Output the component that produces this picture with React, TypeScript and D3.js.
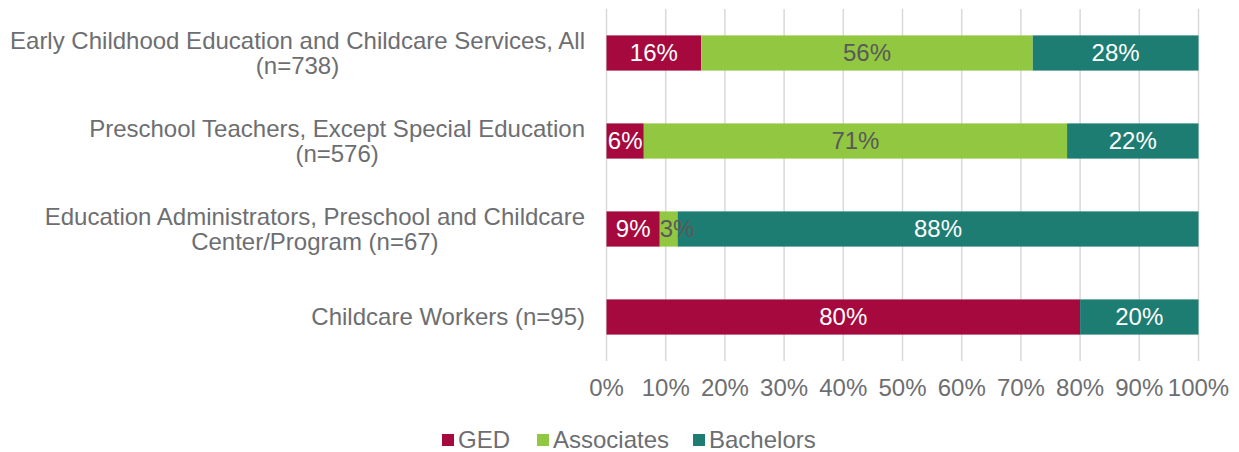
import React from "react";
import * as d3 from "d3";

const categories = [
  ["Early Childhood Education and Childcare Services, All", "(n=738)"],
  ["Preschool Teachers, Except Special Education", "(n=576)"],
  ["Education Administrators, Preschool and Childcare", "Center/Program (n=67)"],
  ["Childcare Workers (n=95)"],
];
const seriesNames = ["GED", "Associates", "Bachelors"];
const gedValues = [16, 6.3, 9, 80];
const associatesValues = [56, 71.5, 3, 0];
const bachelorsValues = [28, 22.2, 88, 20];
const labelGed = ["16%", "6%", "9%", "80%"];
const labelAssociates = ["56%", "71%", "3%", ""];
const labelBachelors = ["28%", "22%", "88%", "20%"];
const tickValues = [0, 10, 20, 30, 40, 50, 60, 70, 80, 90, 100];
const colors = ["#A5093D", "#92C741", "#1E7D73"];
const labelColors = ["#FFFFFF", "#595959", "#FFFFFF"];

const W = 1239;
const H = 452;
const FONT = "'Liberation Sans', Arial, sans-serif";
const TEXT = "#6D6E71";
const FS = 24;

function labelWidth(s: string) {
  let w = 0;
  for (const c of s) w += c === "%" ? 0.889 : 0.556;
  return w * FS;
}

function CategoryLabel({ lines, cy }: { lines: string[]; cy: number }) {
  const ref = React.useRef<SVGGElement>(null);
  const [shift, setShift] = React.useState(0);
  React.useLayoutEffect(() => {
    if (!ref.current) return;
    const bb = ref.current.getBBox();
    setShift(585 - (bb.x + bb.width));
  }, []);
  const lh = 24.5;
  const start = cy - ((lines.length - 1) * lh) / 2;
  return (
    <g ref={ref} transform={`translate(${shift},0)`}>
      <text textAnchor="middle" fontSize={FS} fill={TEXT}>
        {lines.map((l, j) => (
          <tspan key={j} x={0} y={start + j * lh} dy="0.35em">
            {l}
          </tspan>
        ))}
      </text>
    </g>
  );
}

export default function App() {
  const x = d3.scaleLinear().domain([0, 100]).range([606.5, 1198.5]);
  const y = d3
    .scaleBand<number>()
    .domain(d3.range(categories.length))
    .range([9, 361])
    .paddingInner(0.6)
    .paddingOuter(0.3);

  const values = [gedValues, associatesValues, bachelorsValues];
  const labels = [labelGed, labelAssociates, labelBachelors];
  const rows = categories.map((_, i) => {
    const obj: any = { i };
    seriesNames.forEach((s, k) => (obj[s] = values[k][i]));
    return obj;
  });
  const stack = d3.stack<any>().keys(seriesNames)(rows);

  const legendX = [442, 537, 693];

  return (
    <svg width={W} height={H} style={{ position: "absolute", left: 0, top: 0 }} fontFamily={FONT}>
      <rect width={W} height={H} fill="#fff" />
      {tickValues.map((t) => (
        <line key={t} x1={x(t)} x2={x(t)} y1={9} y2={361} stroke="#D9D9D9" strokeWidth={1.5} />
      ))}
      {stack.map((layer, k) =>
        layer.map((d, i) => {
          const w = x(d[1]) - x(d[0]);
          if (w <= 0) return null;
          return <rect key={`${k}-${i}`} x={x(d[0])} y={y(i)!} width={w} height={y.bandwidth()} fill={colors[k]} />;
        })
      )}
      {stack.map((layer, k) =>
        layer.map((d, i) => {
          const w = x(d[1]) - x(d[0]);
          if (w <= 0 || !labels[k][i]) return null;
          const half = labelWidth(labels[k][i]) / 2;
          const cx = Math.max((x(d[0]) + x(d[1])) / 2, x(d[0]) + half);
          return (
            <text
              key={`t${k}-${i}`}
              x={cx}
              y={y(i)! + y.bandwidth() / 2}
              dy="0.35em"
              textAnchor="middle"
              fontSize={FS}
              fill={labelColors[k]}
            >
              {labels[k][i]}
            </text>
          );
        })
      )}
      {categories.map((lines, i) => (
        <CategoryLabel key={i} lines={lines} cy={y(i)! + y.bandwidth() / 2} />
      ))}
      {tickValues.map((t) => (
        <text key={t} x={x(t)} y={388} dy="0.35em" textAnchor="middle" fontSize={FS} fill={TEXT}>
          {t}%
        </text>
      ))}
      {seriesNames.map((s, k) => (
        <g key={s} transform={`translate(${legendX[k]},440)`}>
          <rect x={0} y={-6} width={12} height={12} fill={colors[k]} />
          <text x={16} dy="0.35em" fontSize={FS} fill={TEXT}>
            {s}
          </text>
        </g>
      ))}
    </svg>
  );
}
